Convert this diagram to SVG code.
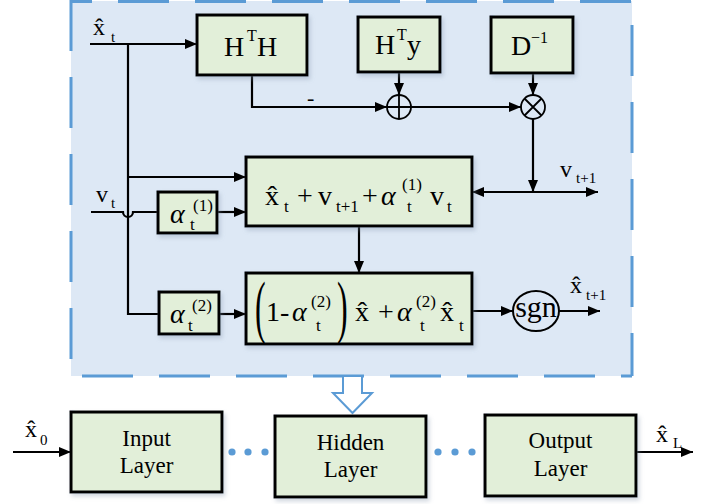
<svg xmlns="http://www.w3.org/2000/svg" width="718" height="504" viewBox="0 0 718 504">
<style>
.m{font-size:28px}
.s{font-size:17px}
.ss{font-size:15px}
.l{font-size:24px}
.i{font-style:italic}
.box{fill:#e2efd9;stroke:#000;stroke-width:3}
.ln{fill:none;stroke:#000;stroke-width:2.2}
.arr{marker-end:url(#ah)}
.op{fill:none;stroke:#000;stroke-width:1.8}
.fr{stroke:#5b9bd5;stroke-width:3;stroke-dasharray:51 26;fill:none}
.dot{fill:#5b9bd5}
</style>
<defs>
<marker id="ah" viewBox="0 0 12 10" refX="12" refY="5" markerWidth="12" markerHeight="10" markerUnits="userSpaceOnUse" orient="auto-start-reverse">
<path d="M0,0 L12,5 L0,10 z" fill="#000"/>
</marker>
<filter id="sh" x="-10%" y="-10%" width="125%" height="130%">
<feDropShadow dx="2" dy="3" stdDeviation="2" flood-color="#8090a8" flood-opacity="0.35"/>
</filter>
</defs>

<g id="frame">
<rect x="71" y="1" width="561" height="375" fill="#dde8f5"/>
<line class="fr" x1="71" y1="0" x2="71" y2="376"/>
<line class="fr" x1="71" y1="1.5" x2="632" y2="1.5" stroke-dashoffset="30"/>
<line class="fr" x1="632" y1="0" x2="632" y2="376" stroke-dashoffset="52"/>
<line class="fr" x1="71" y1="376" x2="632" y2="376" stroke-dashoffset="66"/>
</g>

<g id="connectors">
<path class="ln arr" d="M90,44 H197"/>
<path class="ln" d="M128,44 V314 H159"/>
<path class="ln arr" d="M128,177 H246"/>
<path class="ln" d="M91,212 H123 A5,5 0 0 0 133,212 H158"/>
<path class="ln arr" d="M217,212 H246"/>
<path class="ln arr" d="M219,314 H246"/>
<path class="ln arr" d="M252,75 V107 H387"/>
<path class="ln arr" d="M399,72 V95"/>
<path class="ln arr" d="M411,107 H521"/>
<path class="ln arr" d="M533,73 V95"/>
<path class="ln arr" d="M533,119 V192"/>
<path class="ln" d="M472,192 H598" marker-start="url(#ah)" marker-end="url(#ah)"/>
<path class="ln arr" d="M359,226 V273"/>
<path class="ln arr" d="M472,311 H513"/>
<path class="ln arr" d="M559,311 H600"/>
<path class="ln arr" d="M13,452 H71"/>
<path class="ln arr" d="M636,452 H693"/>
<polygon points="343,376 362,376 362,393 372,393 352.5,413 333,393 343,393" fill="#fff" stroke="#5b9bd5" stroke-width="2"/>
<circle class="dot" cx="232" cy="452" r="3.6"/>
<circle class="dot" cx="248" cy="452" r="3.6"/>
<circle class="dot" cx="265" cy="452" r="3.6"/>
<circle class="dot" cx="438" cy="452" r="3.6"/>
<circle class="dot" cx="455" cy="452" r="3.6"/>
<circle class="dot" cx="472" cy="452" r="3.6"/>
</g>

<g id="labels">
<text font-family="Liberation Serif" class="l" x="93" y="35">x&#x302;</text><text font-family="Liberation Serif" class="ss" x="111" y="42">t</text>
<text font-family="Liberation Serif" class="l" x="96" y="202">v</text><text font-family="Liberation Serif" class="ss" x="111" y="208">t</text>
<text font-family="Liberation Serif" class="l" x="560" y="177">v</text><text font-family="Liberation Serif" class="ss" x="576" y="183">t+1</text>
<text font-family="Liberation Serif" class="l" x="570" y="293">x&#x302;</text><text font-family="Liberation Serif" class="ss" x="586" y="300">t+1</text>
<text font-family="Liberation Serif" class="l" x="25" y="437">x&#x302;</text><text font-family="Liberation Serif" class="ss" x="40" y="445">0</text>
<text font-family="Liberation Serif" class="l" x="656" y="442">x&#x302;</text><text font-family="Liberation Serif" class="ss" x="673" y="448">L</text>
<text font-family="Liberation Serif" font-size="22" x="307" y="105">-</text>
</g>

<g id="hth">
<rect class="box" x="197" y="15" width="110" height="60" filter="url(#sh)"/>
<text font-family="Liberation Serif" class="m" x="224" y="56">H</text><text font-family="Liberation Serif" font-size="16" x="247" y="41">T</text><text font-family="Liberation Serif" class="m" x="257" y="56">H</text>
</g>

<g id="hty">
<rect class="box" x="358" y="17" width="82" height="55" filter="url(#sh)"/>
<text font-family="Liberation Serif" class="m" x="375" y="54">H</text><text font-family="Liberation Serif" font-size="16" x="397" y="40">T</text><text font-family="Liberation Serif" class="m" x="407" y="54">y</text>
</g>

<g id="dinv">
<rect class="box" x="491" y="17" width="82" height="56" filter="url(#sh)"/>
<text font-family="Liberation Serif" class="m" x="511" y="55">D</text><text font-family="Liberation Serif" font-size="16" x="531" y="43">&#x2212;1</text>
</g>

<g id="plus">
<circle cx="399" cy="107" r="12" fill="#dde8f5" stroke="#000" stroke-width="1.8"/>
<path class="op" d="M387,107 H411 M399,95 V119"/>
</g>

<g id="times">
<circle cx="533" cy="107" r="12" fill="#dde8f5" stroke="#000" stroke-width="1.8"/>
<path class="op" d="M524.5,98.5 L541.5,115.5 M541.5,98.5 L524.5,115.5"/>
</g>

<g id="update-v">
<rect class="box" x="246" y="157" width="226" height="69" filter="url(#sh)"/>
<text font-family="Liberation Serif" class="m" x="265" y="205">x&#x302;</text><text font-family="Liberation Serif" class="s" x="284" y="212">t</text>
<text font-family="Liberation Serif" class="m" x="297" y="205">+</text>
<text font-family="Liberation Serif" class="m" x="318" y="205">v</text><text font-family="Liberation Serif" class="s" x="336" y="212">t+1</text>
<text font-family="Liberation Serif" class="m" x="362" y="205">+</text>
<text font-family="Liberation Serif" class="m i" x="381" y="205">α</text><text font-family="Liberation Serif" class="s" x="402" y="190">(1)</text><text font-family="Liberation Serif" class="s" x="407" y="212">t</text>
<text font-family="Liberation Serif" class="m" x="430" y="205">v</text><text font-family="Liberation Serif" class="s" x="447" y="212">t</text>
</g>

<g id="alpha1">
<rect class="box" x="158" y="192" width="59" height="41" filter="url(#sh)"/>
<text font-family="Liberation Serif" class="m i" x="170" y="223">α</text><text font-family="Liberation Serif" class="s" x="193" y="211">(1)</text><text font-family="Liberation Serif" class="s" x="190" y="230">t</text>
</g>

<g id="alpha2">
<rect class="box" x="159" y="292" width="60" height="42" filter="url(#sh)"/>
<text font-family="Liberation Serif" class="m i" x="170" y="323">α</text><text font-family="Liberation Serif" class="s" x="192" y="311">(2)</text><text font-family="Liberation Serif" class="s" x="188" y="331">t</text>
</g>

<g id="update-x">
<rect class="box" x="246" y="273" width="226" height="71" filter="url(#sh)"/>
<text font-family="Liberation Serif" font-size="32" transform="translate(255,330) scale(1,2.2)">(</text>
<text font-family="Liberation Serif" class="m" x="266" y="321">1</text>
<text font-family="Liberation Serif" class="m" x="280" y="321">-</text>
<text font-family="Liberation Serif" class="m i" x="292" y="321">α</text><text font-family="Liberation Serif" class="s" x="311" y="307">(2)</text><text font-family="Liberation Serif" class="s" x="316" y="331">t</text>
<text font-family="Liberation Serif" font-size="32" transform="translate(337,330) scale(1,2.2)">)</text>
<text font-family="Liberation Serif" class="m" x="355" y="321">x&#x302;</text>
<text font-family="Liberation Serif" class="m" x="378" y="321">+</text>
<text font-family="Liberation Serif" class="m i" x="397" y="321">α</text><text font-family="Liberation Serif" class="s" x="416" y="307">(2)</text><text font-family="Liberation Serif" class="s" x="420" y="331">t</text>
<text font-family="Liberation Serif" class="m" x="440" y="321">x&#x302;</text><text font-family="Liberation Serif" class="s" x="459" y="331">t</text>
</g>

<g id="sgn">
<ellipse cx="536" cy="311" rx="23" ry="20" fill="#dde8f5" stroke="#000" stroke-width="2"/>
<text font-family="Liberation Serif" font-size="30" x="536" y="317" text-anchor="middle">sgn</text>
</g>

<g id="input-layer">
<rect class="box" x="71" y="412" width="151" height="80" filter="url(#sh)"/>
<text font-family="Liberation Serif" font-size="23" x="146.5" y="446" text-anchor="middle">Input</text>
<text font-family="Liberation Serif" font-size="23" x="146.5" y="473" text-anchor="middle">Layer</text>
</g>

<g id="hidden-layer">
<rect class="box" x="275" y="416" width="151" height="81" filter="url(#sh)"/>
<text font-family="Liberation Serif" font-size="23" x="350.5" y="450" text-anchor="middle">Hidden</text>
<text font-family="Liberation Serif" font-size="23" x="350.5" y="477" text-anchor="middle">Layer</text>
</g>

<g id="output-layer">
<rect class="box" x="485" y="415" width="151" height="81" filter="url(#sh)"/>
<text font-family="Liberation Serif" font-size="23" x="560.5" y="448" text-anchor="middle">Output</text>
<text font-family="Liberation Serif" font-size="23" x="560.5" y="476" text-anchor="middle">Layer</text>
</g>
</svg>
